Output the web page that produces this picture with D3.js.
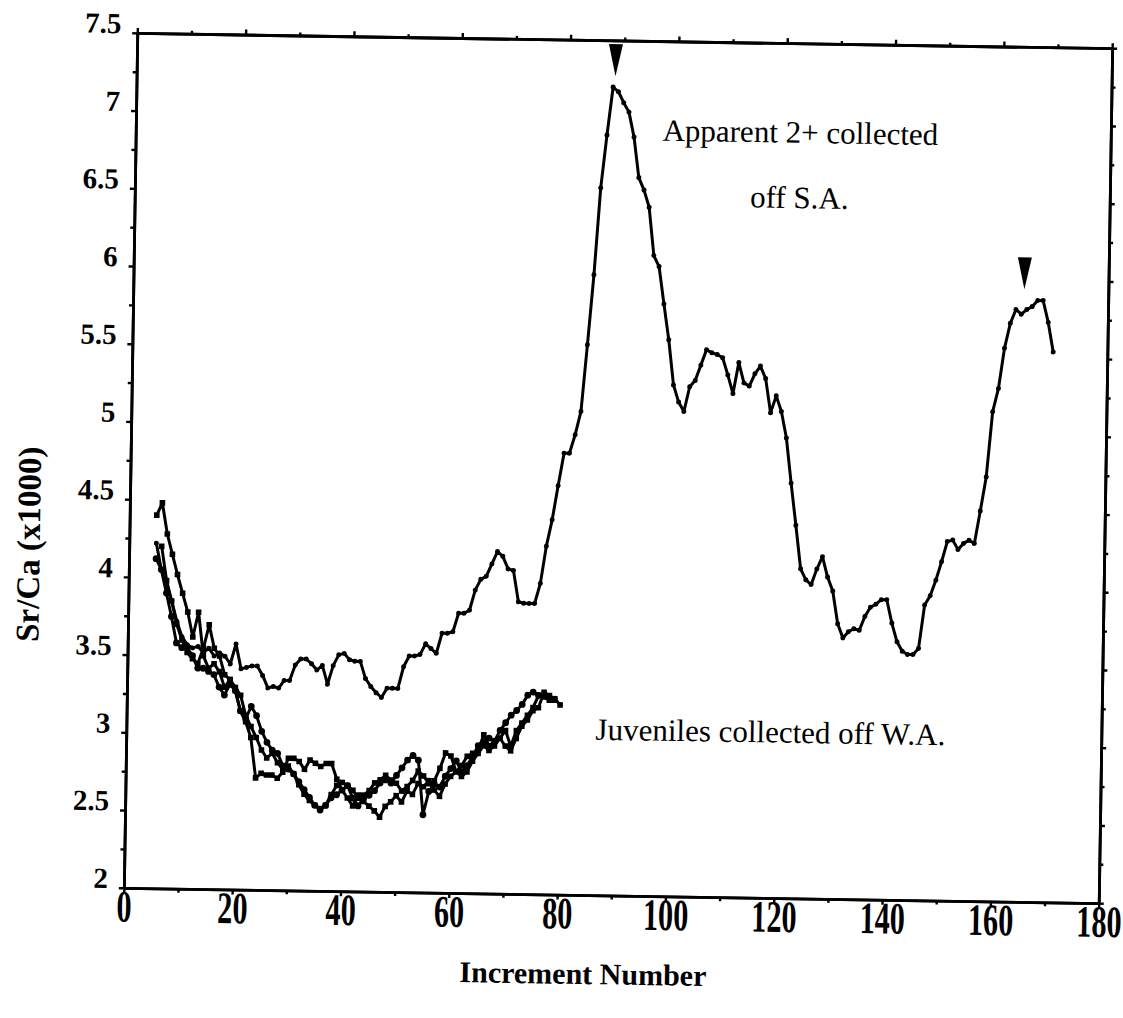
<!DOCTYPE html>
<html>
<head>
<meta charset="utf-8">
<script src="https://cdn.jsdelivr.net/npm/d3@7"></script>
<style>
  html, body { margin: 0; padding: 0; background: #fff; }
  svg { display: block; }
  text { font-family: "Liberation Serif", "Times New Roman", serif; fill: #000; }
</style>
</head>
<body>
<svg id="chart" width="1123" height="1018"></svg>
<script>
// ---------------- data ----------------
const xTickValues = [0, 20, 40, 60, 80, 100, 120, 140, 160, 180];
const xMinorTicks = [10, 30, 50, 70, 90, 110, 130, 150, 170];
const yTickValues = [2, 2.5, 3, 3.5, 4, 4.5, 5, 5.5, 6, 6.5, 7, 7.5];
const yTickLabels = ["2", "2.5", "3", "3.5", "4", "4.5", "5", "5.5", "6", "6.5", "7", "7.5"];
const yMinorTicks = [2.25, 2.75, 3.25, 3.75, 4.25, 4.75, 5.25, 5.75, 6.25, 6.75, 7.25];

// Apparent 2+ collected off S.A.
const adultSA = [
  [5,4.22],[6,4.05],[7,3.95],[8,3.85],[9,3.72],[10,3.62],[11,3.57],[12,3.55],[13,3.56],[14,3.52],
  [15,3.55],[16,3.5],[17,3.52],[18,3.5],[19,3.45],[20,3.58],[21,3.42],[22,3.43],[23,3.44],[24,3.44],
  [25,3.38],[26,3.3],[27,3.31],[28,3.3],[29,3.35],[30,3.35],[31,3.45],[32,3.49],[33,3.49],[34,3.46],
  [35,3.42],[36,3.45],[37,3.33],[38,3.45],[39,3.52],[40,3.53],[41,3.49],[42,3.48],[43,3.48],[44,3.37],
  [45,3.32],[46,3.28],[47,3.25],[48,3.31],[49,3.31],[50,3.31],[51,3.45],[52,3.52],[53,3.52],[54,3.53],
  [55,3.6],[56,3.57],[57,3.54],[58,3.67],[59,3.67],[60,3.68],[61,3.8],[62,3.8],[63,3.82],[64,3.95],
  [65,4.02],[66,4.04],[67,4.12],[68,4.2],[69,4.17],[70,4.09],[71,4.08],[72,3.88],[73,3.87],[74,3.87],
  [75,3.87],[76,4.0],[77,4.24],[78,4.41],[79,4.63],[80,4.84],[81,4.84],[82,4.96],[83,5.11],[84,5.54],
  [85,5.99],[86,6.55],[87,6.89],[88,7.2],[89,7.17],[90,7.1],[91,7.04],[92,6.88],[93,6.62],[94,6.54],
  [95,6.43],[96,6.12],[97,6.05],[98,5.81],[99,5.58],[100,5.29],[101,5.18],[102,5.12],[103,5.28],[104,5.32],
  [105,5.42],[106,5.52],[107,5.5],[108,5.49],[109,5.47],[110,5.36],[111,5.24],[112,5.44],[113,5.31],[114,5.29],
  [115,5.37],[116,5.42],[117,5.34],[118,5.12],[119,5.23],[120,5.13],[121,4.96],[122,4.67],[123,4.4],[124,4.12],
  [125,4.05],[126,4.02],[127,4.12],[128,4.2],[129,4.07],[130,3.98],[131,3.77],[132,3.68],[133,3.72],[134,3.74],
  [135,3.73],[136,3.82],[137,3.88],[138,3.9],[139,3.93],[140,3.93],[141,3.78],[142,3.66],[143,3.6],[144,3.58],
  [145,3.58],[146,3.62],[147,3.9],[148,3.96],[149,4.06],[150,4.18],[151,4.31],[152,4.32],[153,4.26],[154,4.3],
  [155,4.32],[156,4.3],[157,4.51],[158,4.73],[159,5.15],[160,5.3],[161,5.56],[162,5.72],[163,5.81],[164,5.78],
  [165,5.81],[166,5.83],[167,5.87],[168,5.87],[169,5.73],[170,5.54]
];

// Juveniles collected off W.A. (three fish)
const juvenile1 = [
  [5,4.4],[6,4.48],[7,4.28],[8,4.15],[9,4.02],[10,3.9],[11,3.78],[12,3.62],[13,3.78],[14,3.5],
  [15,3.42],[16,3.45],[17,3.4],[18,3.3],[19,3.35],[20,3.28],[21,3.15],[22,3.08],[23,2.98],[24,2.72],
  [25,2.75],[26,2.74],[27,2.74],[28,2.72],[29,2.76],[30,2.85],[31,2.85],[32,2.83],[33,2.78],[34,2.84],
  [35,2.82],[36,2.8],[37,2.82],[38,2.82],[39,2.72],[40,2.65],[41,2.6],[42,2.55],[43,2.62],[44,2.58],
  [45,2.55],[46,2.52],[47,2.48],[48,2.55],[49,2.58],[50,2.62],[51,2.58],[52,2.65],[53,2.63],[54,2.7],
  [55,2.68],[56,2.72],[57,2.66],[58,2.62],[59,2.7],[60,2.75],[61,2.78],[62,2.82],[63,2.88],[64,2.9],
  [65,2.92],[66,3.02],[67,2.95],[68,2.98],[69,3.0],[70,3.05],[71,2.95],[72,3.05],[73,3.1],[74,3.15],
  [75,3.2],[76,3.28],[77,3.27],[78,3.25],[79,3.26],[80,3.22]
];
const juvenile2 = [
  [5,4.12],[6,4.05],[7,3.9],[8,3.75],[9,3.58],[10,3.55],[11,3.55],[12,3.5],[13,3.42],[14,3.42],
  [15,3.4],[16,3.38],[17,3.3],[18,3.25],[19,3.32],[20,3.28],[21,3.15],[22,3.1],[23,3.18],[24,3.12],
  [25,3.02],[26,2.95],[27,2.9],[28,2.88],[29,2.8],[30,2.78],[31,2.75],[32,2.7],[33,2.65],[34,2.6],
  [35,2.55],[36,2.52],[37,2.55],[38,2.6],[39,2.62],[40,2.65],[41,2.68],[42,2.6],[43,2.55],[44,2.6],
  [45,2.62],[46,2.65],[47,2.7],[48,2.72],[49,2.7],[50,2.75],[51,2.8],[52,2.85],[53,2.88],[54,2.85],
  [55,2.5],[56,2.65],[57,2.7],[58,2.68],[59,2.75],[60,2.8],[61,2.85],[62,2.78],[63,2.82],[64,2.88],
  [65,2.95],[66,2.97],[67,3.0],[68,2.98],[69,3.05],[70,3.1],[71,3.15],[72,3.18],[73,3.22],[74,3.28],
  [75,3.3],[76,3.28],[77,3.28]
];
const juvenile3 = [
  [6,4.2],[7,3.98],[8,3.85],[9,3.7],[10,3.6],[11,3.52],[12,3.48],[13,3.45],[14,3.55],
  [15,3.7],[16,3.55],[17,3.5],[18,3.38],[19,3.35],[20,3.3],[21,3.25],[22,3.12],[23,3.05],[24,2.98],
  [25,2.9],[26,2.85],[27,2.88],[28,2.82],[29,2.78],[30,2.8],[31,2.75],[32,2.68],[33,2.62],[34,2.58],
  [35,2.55],[36,2.53],[37,2.55],[38,2.62],[39,2.68],[40,2.7],[41,2.68],[42,2.65],[43,2.6],[44,2.62],
  [45,2.65],[46,2.7],[47,2.72],[48,2.75],[49,2.72],[50,2.7],[51,2.65],[52,2.68],[53,2.72],[54,2.78],
  [55,2.75],[56,2.7],[57,2.72],[58,2.8],[59,2.9],[60,2.88],[61,2.78],[62,2.75],[63,2.78],[64,2.85],
  [65,2.9],[66,2.95],[67,2.92],[68,2.95],[69,3.0],[70,2.95],[71,2.92],[72,3.0],[73,3.08],[74,3.12],
  [75,3.18],[76,3.2],[77,3.3],[78,3.28],[79,3.25]
];

// arrow markers (tip position in data units)
const arrowTips = [[88.4, 7.27], [164.5, 5.94]];

// annotations (anchor in data units)
const annotations = [
  { text: "Apparent 2+ collected", x: 122.7, y: 6.86 },
  { text: "off S.A.", x: 122.7, y: 6.44 },
  { text: "Juveniles collected off W.A.", x: 118.9, y: 3.0 }
];
const xTitle = "Increment Number";
const yTitle = "Sr/Ca (x1000)";

// ---------------- layout ----------------
const svg = d3.select("#chart");
const padLeft = 130.5, padTop = 40.5, pw = 975, ph = 855;
const root = svg.append("g")
  .attr("transform", `rotate(0.9 618 468) translate(${padLeft} ${padTop})`);

const x = d3.scaleLinear().domain([0, 180]).range([0, pw]);
const y = d3.scaleLinear().domain([2, 7.5]).range([ph, 0]);

function styleAxis(g) {
  g.select(".domain").attr("stroke", "#000").attr("stroke-width", 2.8);
  g.selectAll(".tick line").attr("stroke", "#000").attr("stroke-width", 2.4);
}

// bottom axis with labels
const gb = root.append("g").attr("transform", `translate(0,${ph})`)
  .call(d3.axisBottom(x).tickValues(xTickValues).tickSize(5).tickSizeOuter(0).tickFormat(d3.format("d")));
styleAxis(gb);
gb.selectAll(".tick text")
  .attr("y", 27).attr("dy", "0")
  .attr("transform", "scale(0.84,1.25)")
  .style("font-size", "36px").style("font-weight", "bold");
root.append("g").attr("transform", `translate(0,${ph})`)
  .call(d3.axisBottom(x).tickValues(xMinorTicks).tickSize(4).tickSizeOuter(0).tickFormat(""))
  .call(styleAxis);

// left axis with labels
const gl = root.append("g")
  .call(d3.axisLeft(y).tickValues(yTickValues).tickSize(5).tickSizeOuter(0)
    .tickFormat((d, i) => yTickLabels[i]));
styleAxis(gl);
gl.selectAll(".tick text")
  .attr("x", -16).attr("dy", "0")
  .style("font-size", "29px").style("font-weight", "bold");
root.append("g")
  .call(d3.axisLeft(y).tickValues(yMinorTicks).tickSize(4).tickSizeOuter(0).tickFormat(""))
  .call(styleAxis);

// top axis
root.append("g")
  .call(d3.axisTop(x).tickValues(xTickValues).tickSize(5).tickSizeOuter(0).tickFormat(""))
  .call(styleAxis);
root.append("g")
  .call(d3.axisTop(x).tickValues(xMinorTicks).tickSize(3).tickSizeOuter(0).tickFormat(""))
  .call(styleAxis);

// right axis
root.append("g").attr("transform", `translate(${pw},0)`)
  .call(d3.axisRight(y).tickValues(yTickValues).tickSize(5).tickSizeOuter(0).tickFormat(""))
  .call(styleAxis);
root.append("g").attr("transform", `translate(${pw},0)`)
  .call(d3.axisRight(y).tickValues(yMinorTicks).tickSize(4).tickSizeOuter(0).tickFormat(""))
  .call(styleAxis);

// ---------------- series ----------------
const line = d3.line().x(d => x(d[0])).y(d => y(d[1]));
const series = [
  { data: juvenile1, marker: "square" },
  { data: juvenile2, marker: "circle" },
  { data: juvenile3, marker: "square" },
  { data: adultSA, marker: "dot" }
];
series.forEach(s => {
  const g = root.append("g");
  g.append("path").datum(s.data)
    .attr("d", line).attr("fill", "none").attr("stroke", "#000")
    .attr("stroke-width", 3).attr("stroke-linejoin", "round");
  if (s.marker === "square") {
    g.selectAll("rect").data(s.data).join("rect")
      .attr("x", d => x(d[0]) - 2.8).attr("y", d => y(d[1]) - 2.8)
      .attr("width", 5.6).attr("height", 5.6).attr("fill", "#000");
  } else {
    g.selectAll("circle").data(s.data).join("circle")
      .attr("cx", d => x(d[0])).attr("cy", d => y(d[1]))
      .attr("r", s.marker === "circle" ? 3.4 : 2.5).attr("fill", "#000");
  }
});

// arrows
root.selectAll("path.arrow").data(arrowTips).join("path")
  .attr("class", "arrow")
  .attr("d", d => {
    const tx = x(d[0]), ty = y(d[1]);
    return `M${tx},${ty} L${tx - 7},${ty - 32} L${tx + 7},${ty - 32} Z`;
  })
  .attr("fill", "#000");

// annotations
root.selectAll("text.anno").data(annotations).join("text")
  .attr("class", "anno")
  .attr("x", d => x(d.x)).attr("y", d => y(d.y))
  .attr("text-anchor", "middle")
  .style("font-size", "31px")
  .text(d => d.text);

// axis titles
root.append("text")
  .attr("x", x(85)).attr("y", ph + 89)
  .attr("text-anchor", "middle")
  .style("font-size", "30px").style("font-weight", "bold")
  .text(xTitle);
root.append("text")
  .attr("transform", `translate(${-padLeft + 41},${y(4.2)}) rotate(-90)`)
  .attr("text-anchor", "middle")
  .style("font-size", "33px").style("font-weight", "bold")
  .text(yTitle);
</script>
</body>
</html>
